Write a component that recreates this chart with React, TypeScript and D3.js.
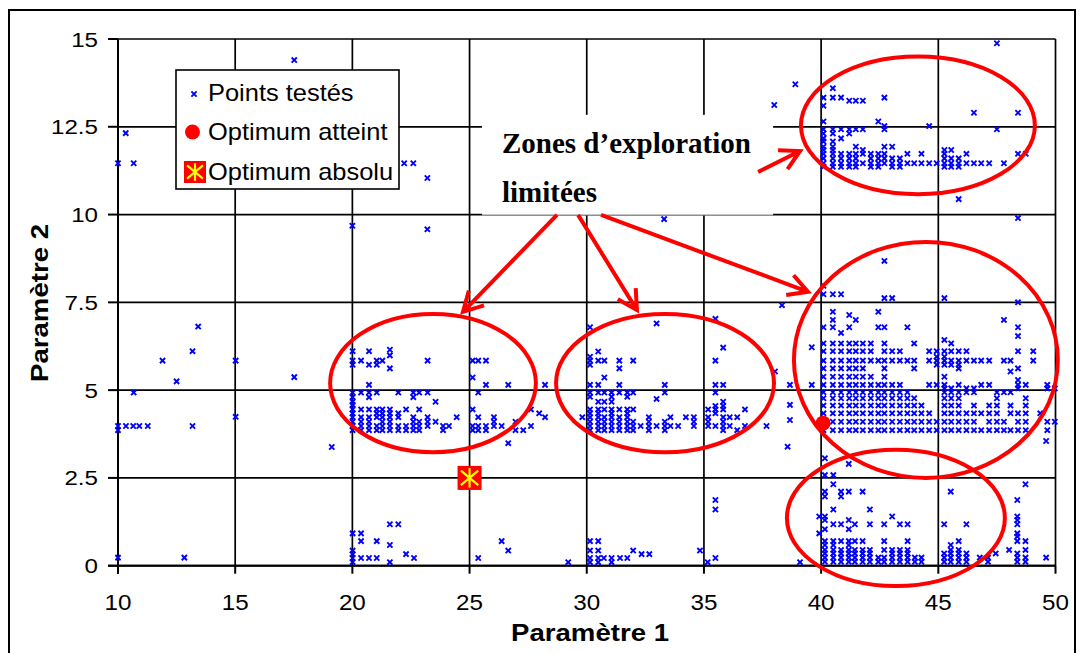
import React from 'react'
import * as d3 from 'd3'

type Row = { y: number; xs: number[] }

const xTicks = [10, 15, 20, 25, 30, 35, 40, 45, 50]
const yTicks = [0, 2.5, 5, 7.5, 10, 12.5, 15]
const yTickLabels = ['0', '2.5', '5', '7.5', '10', '12.5', '15']

// isolated points
const scattered: [number, number][] = [
  [10.33, 12.32], [10, 11.46], [10.67, 11.46], [17.52, 14.4], [22.21, 11.46], [22.6, 11.46],
  [20, 9.68], [23.2, 11.04], [23.2, 9.58], [13.42, 6.81], [13.18, 6.11], [11.9, 5.84],
  [12.5, 5.25], [10.67, 4.93], [15.02, 5.84], [17.52, 5.37], [15.02, 4.24], [13.18, 3.98],
  [10, 3.98], [10.34, 3.98], [10.65, 3.98], [10.91, 3.98], [11.27, 3.98], [10, 3.86],
  [19.12, 3.38], [10, 0.23], [12.83, 0.23], [33.3, 9.87], [38.0, 13.12], [38.9, 13.71],
  [47.5, 14.88], [38.57, 3.39], [38.67, 5.15], [39.6, 6.22], [39.6, 5.15], [38.67, 4.58],
  [38.67, 4.15], [38.33, 7.42], [40.1, 7.97], [42.7, 8.68], [49.6, 3.55],
]

const zoneLeft: Row[] = [
  { y: 6.11, xs: [20.01, 20.71] },
  { y: 6.15, xs: [21.6] },
  { y: 5.99, xs: [21.6] },
  { y: 5.84, xs: [20.01, 20.37, 21.04, 21.28, 23.21, 25.13, 25.37, 25.7] },
  { y: 5.72, xs: [20.01, 20.71, 21.04] },
  { y: 5.62, xs: [21.6] },
  { y: 5.36, xs: [25.13] },
  { y: 5.15, xs: [20.71, 25.7, 26.65, 28.22] },
  { y: 4.93, xs: [20.01, 20.37, 20.71, 21.04, 21.96, 22.6, 22.85, 23.21, 25.37] },
  { y: 4.8, xs: [20.01, 20.71, 22.6] },
  { y: 4.67, xs: [20.01, 23.55] },
  { y: 4.58, xs: [20.01] },
  { y: 4.45, xs: [20.01, 20.37, 20.71, 21.04, 21.28, 21.6, 22.29, 22.85, 25.13, 27.62] },
  { y: 4.34, xs: [20.01, 21.04, 21.28, 21.6, 21.96, 27.97] },
  { y: 4.23, xs: [20.01, 20.37, 20.71, 21.04, 21.28, 21.6, 21.96, 22.6, 23.21, 24.45, 25.37, 26.04, 28.22] },
  { y: 4.1, xs: [20.01, 20.37, 20.71, 21.28, 21.6, 22.6, 22.85, 23.21, 23.55, 26.04, 26.96] },
  { y: 3.98, xs: [20.01, 20.37, 20.71, 21.04, 21.28, 21.6, 21.96, 22.29, 22.6, 22.85, 23.21, 23.87, 24.12, 25.13, 25.37, 25.7, 26.04, 26.37, 27.62] },
  { y: 3.86, xs: [20.01, 20.37, 20.71, 21.04, 21.28, 21.6, 21.96, 22.29, 22.6, 22.85, 23.87, 25.13, 25.37, 25.7, 26.96, 27.29] },
  { y: 3.49, xs: [26.65] },
]

const zoneMiddle: Row[] = [
  { y: 7.03, xs: [35.49] },
  { y: 6.9, xs: [32.98] },
  { y: 6.79, xs: [30.14] },
  { y: 6.21, xs: [35.82] },
  { y: 6.1, xs: [30.49] },
  { y: 5.95, xs: [30.14] },
  { y: 5.84, xs: [30.14, 30.49, 30.75, 31.39, 31.98, 35.49] },
  { y: 5.72, xs: [30.14] },
  { y: 5.62, xs: [31.39] },
  { y: 5.53, xs: [38.03] },
  { y: 5.36, xs: [30.75] },
  { y: 5.15, xs: [30.14, 30.49, 31.39, 33.33, 35.49, 35.82] },
  { y: 4.93, xs: [30.14, 30.49, 30.75, 31.06, 31.39, 31.73, 31.98, 33.33, 35.49] },
  { y: 4.81, xs: [30.14, 31.06, 31.73] },
  { y: 4.75, xs: [32.98] },
  { y: 4.67, xs: [30.49, 30.75, 31.06, 35.82] },
  { y: 4.55, xs: [35.49, 35.82] },
  { y: 4.45, xs: [30.14, 30.49, 30.75, 31.06, 31.39, 31.73, 31.98, 35.18, 35.49, 35.82, 36.75] },
  { y: 4.34, xs: [30.14, 30.49, 31.06, 31.73, 35.49] },
  { y: 4.23, xs: [29.81, 30.14, 30.49, 30.75, 31.06, 31.39, 31.73, 32.65, 33.57, 34.23, 34.57, 35.18, 35.82, 36.1, 36.42] },
  { y: 4.1, xs: [30.14, 30.49, 30.75, 31.06, 31.39, 31.73, 31.98, 32.65, 33.33, 34.57, 35.18, 35.82] },
  { y: 3.98, xs: [30.14, 30.49, 30.75, 31.06, 31.39, 31.73, 31.98, 32.3, 32.65, 32.98, 33.33, 33.57, 33.9, 34.57, 35.18, 35.49, 35.82, 36.1, 36.75, 37.67] },
  { y: 3.86, xs: [30.14, 30.49, 30.75, 31.06, 31.39, 31.73, 31.98, 32.65, 33.33, 35.82, 36.42] },
]

const bottomStrip: Row[] = [
  { y: 1.87, xs: [35.49] },
  { y: 1.6, xs: [35.49] },
  { y: 1.18, xs: [21.6, 21.96] },
  { y: 0.92, xs: [20.01, 20.37] },
  { y: 0.7, xs: [20.37, 21.04, 26.37, 30.14, 30.49] },
  { y: 0.59, xs: [21.6] },
  { y: 0.43, xs: [20.01, 26.65, 30.14, 30.49, 31.98, 34.83] },
  { y: 0.33, xs: [20.01, 22.29, 32.34, 32.67] },
  { y: 0.22, xs: [20.01, 20.37, 20.71, 21.04, 22.63, 25.37, 30.14, 30.49, 30.73, 31.06, 31.42, 31.73, 35.49] },
  { y: 0.1, xs: [20.01, 21.6, 29.21, 30.14, 30.49, 31.06, 35.16, 39.1] },
]

const zoneBottomRight: Row[] = [
  { y: 3.06, xs: [40.16] },
  { y: 2.9, xs: [41.18] },
  { y: 2.58, xs: [40.16, 40.52] },
  { y: 2.32, xs: [40.52, 48.72] },
  { y: 2.11, xs: [40.16, 40.85, 41.18, 41.77, 45.53] },
  { y: 1.97, xs: [40.16, 40.85] },
  { y: 1.87, xs: [48.37] },
  { y: 1.6, xs: [40.52, 42.08] },
  { y: 1.4, xs: [39.92, 40.16, 43.03, 48.37] },
  { y: 1.3, xs: [40.16, 41.18, 48.37] },
  { y: 1.18, xs: [40.52, 40.85, 41.44, 42.08, 42.69, 43.36, 43.69, 45.25, 46.2, 48.37] },
  { y: 1.04, xs: [40.16, 41.18] },
  { y: 0.92, xs: [39.92, 48.37] },
  { y: 0.83, xs: [48.37] },
  { y: 0.7, xs: [40.16, 40.52, 40.85, 41.18, 41.44, 41.77, 42.69, 43.69, 45.87, 48.37, 48.72] },
  { y: 0.59, xs: [40.16, 40.52, 41.18, 45.53] },
  { y: 0.45, xs: [40.16, 40.52, 40.85, 41.18, 41.44, 41.77, 42.08, 42.69, 43.03, 43.36, 43.69, 45.53, 45.87, 48.02, 48.72] },
  { y: 0.35, xs: [40.16, 40.52, 40.85, 41.18, 41.44, 41.77, 42.08, 43.03, 43.36, 43.69, 45.25, 45.53, 45.87, 46.2, 47.45, 48.37] },
  { y: 0.23, xs: [40.16, 40.52, 40.85, 41.18, 41.44, 41.77, 42.08, 42.44, 42.69, 43.03, 43.36, 43.69, 44.0, 44.28, 45.25, 45.53, 45.87, 46.2, 46.77, 47.12, 48.37, 48.72, 49.6] },
  { y: 0.11, xs: [40.16, 40.52, 40.85, 41.18, 41.44, 41.77, 42.08, 42.44, 42.69, 43.03, 43.36, 43.69, 44.0, 44.28, 45.25, 45.53, 45.87, 46.2, 47.12, 48.37, 48.72] },
]

const zoneRight: Row[] = [
  { y: 7.73, xs: [40.1, 40.5, 40.85] },
  { y: 7.62, xs: [42.7, 43.03, 45.26] },
  { y: 7.5, xs: [48.4] },
  { y: 7.23, xs: [40.5, 42.44] },
  { y: 7.14, xs: [41.2] },
  { y: 7.0, xs: [40.5, 41.48, 47.8] },
  { y: 6.79, xs: [40.1, 40.5, 41.2, 42.44, 42.7, 43.68, 48.4] },
  { y: 6.63, xs: [40.85] },
  { y: 6.54, xs: [48.4] },
  { y: 6.43, xs: [45.26] },
  { y: 6.33, xs: [40.1, 40.5, 40.85, 41.2, 41.48, 41.78, 42.12, 42.7, 43.97, 45.55] },
  { y: 6.11, xs: [40.1, 40.5, 40.85, 41.2, 41.48, 41.78, 42.12, 42.7, 43.03, 43.36, 44.61, 44.93, 45.26, 45.55, 45.87, 46.2, 48.4, 49.05] },
  { y: 5.95, xs: [44.93, 45.26] },
  { y: 5.84, xs: [40.1, 40.5, 40.85, 41.2, 41.48, 41.78, 42.12, 42.44, 42.7, 43.03, 43.36, 43.68, 43.97, 44.61, 44.93, 45.26, 45.55, 45.87, 46.2, 46.52, 46.83, 47.17, 47.8, 48.08, 49.05] },
  { y: 5.72, xs: [44.93, 45.26, 45.55, 45.87] },
  { y: 5.62, xs: [40.1, 40.5, 40.85, 41.2, 41.48, 41.78, 42.7, 43.97, 45.87, 48.4] },
  { y: 5.53, xs: [48.08] },
  { y: 5.38, xs: [40.1, 40.5, 40.85, 41.2, 41.48, 41.78, 42.12, 42.7, 45.26] },
  { y: 5.29, xs: [48.4] },
  { y: 5.15, xs: [40.1, 40.5, 40.85, 41.2, 41.48, 41.78, 42.12, 42.44, 42.7, 43.03, 43.36, 44.61, 44.93, 45.26, 45.87, 46.83, 47.17, 48.4, 48.73, 49.65] },
  { y: 5.05, xs: [45.26, 45.55, 46.2, 46.52, 48.4, 49.65, 49.97] },
  { y: 4.94, xs: [40.1, 40.5, 40.85, 41.2, 41.48, 41.78, 42.12, 42.44, 42.7, 43.03, 43.36, 43.68, 45.26, 45.55, 45.87, 46.2, 46.52, 47.5, 47.8, 48.08] },
  { y: 4.77, xs: [40.1, 40.5, 40.85, 41.2, 41.48, 41.78, 42.12, 42.44, 42.7, 43.03, 43.36, 43.68, 43.97, 45.26, 45.55, 45.87, 47.5, 48.73] },
  { y: 4.56, xs: [40.1, 40.5, 40.85, 41.2, 41.48, 41.78, 42.12, 42.44, 42.7, 43.03, 43.36, 43.68, 43.97, 44.28, 45.26, 45.55, 45.87, 46.52, 47.17, 47.5, 48.08, 48.73] },
  { y: 4.34, xs: [40.1, 40.5, 40.85, 41.2, 41.48, 41.78, 42.12, 42.44, 42.7, 43.03, 43.36, 43.68, 43.97, 44.28, 44.61, 45.26, 45.55, 45.87, 46.2, 46.52, 46.83, 47.17, 47.5, 48.08, 48.4, 48.73, 49.35] },
  { y: 4.1, xs: [40.1, 40.5, 40.85, 41.2, 41.48, 41.78, 42.12, 42.44, 42.7, 43.03, 43.36, 43.68, 43.97, 44.28, 44.61, 44.93, 45.26, 45.55, 45.87, 46.2, 46.52, 47.17, 47.5, 47.8, 48.4, 48.73, 49.65, 49.97] },
  { y: 3.86, xs: [40.1, 40.5, 40.85, 41.2, 41.48, 41.78, 42.12, 42.44, 42.7, 43.03, 43.36, 43.68, 43.97, 44.28, 44.61, 44.93, 45.26, 45.55, 45.87, 46.2, 46.52, 46.83, 47.17, 47.5, 47.8, 48.08, 48.4, 48.73, 49.65] },
]

const zoneTop: Row[] = [
  { y: 13.6, xs: [40.5] },
  { y: 13.33, xs: [40.1, 40.5, 40.85, 42.7] },
  { y: 13.24, xs: [41.2, 41.48, 41.78] },
  { y: 13.1, xs: [40.1] },
  { y: 12.9, xs: [46.52, 48.4] },
  { y: 12.65, xs: [40.1, 42.44] },
  { y: 12.52, xs: [42.7, 44.61] },
  { y: 12.43, xs: [40.1, 40.5, 40.85, 41.2, 41.48, 41.78, 42.7, 47.5] },
  { y: 12.31, xs: [40.1, 40.5, 41.2] },
  { y: 12.17, xs: [40.1, 40.85] },
  { y: 12.08, xs: [40.1, 40.5] },
  { y: 11.93, xs: [40.1, 40.5, 41.48, 42.7, 43.03] },
  { y: 11.84, xs: [40.1, 40.5, 41.78, 45.26, 45.55] },
  { y: 11.73, xs: [40.1, 40.5, 40.85, 41.2, 41.48, 41.78, 42.12, 42.44, 42.7, 43.68, 44.28, 45.26, 46.2, 48.4, 48.73] },
  { y: 11.6, xs: [40.1, 40.5, 40.85, 41.2, 41.48, 42.12, 42.44, 42.7, 43.03, 43.36, 45.26, 45.55, 45.87] },
  { y: 11.46, xs: [40.1, 40.5, 40.85, 41.2, 41.48, 41.78, 42.12, 42.44, 42.7, 43.03, 43.36, 43.68, 43.97, 44.28, 44.61, 44.93, 45.26, 45.55, 45.87, 46.2, 46.52, 46.83, 47.17, 47.8] },
  { y: 11.36, xs: [40.1, 40.5, 40.85, 41.2, 41.48, 42.12, 42.44, 43.03, 43.36, 45.26, 45.55, 45.87] },
  { y: 10.44, xs: [45.87] },
  { y: 9.9, xs: [48.4] },
]

const optimumReached: [number, number] = [40.08, 4.06]
const optimumAbsolute: [number, number] = [25, 2.5]

// annotations, in data units: [cx, cy, rx, ry]
const zones: [number, number, number, number][] = [
  [23.44, 5.2, 4.39, 1.97],
  [33.34, 5.2, 4.65, 1.97],
  [44.47, 5.86, 5.63, 3.36],
  [44.13, 12.54, 4.99, 1.96],
  [43.19, 1.36, 4.65, 1.94],
]
// arrows: [x1, y1, x2, y2]
const arrows: [number, number, number, number][] = [
  [28.73, 9.99, 24.72, 7.23],
  [29.63, 9.99, 32.14, 7.28],
  [30.61, 9.99, 39.44, 7.8],
  [37.31, 11.21, 39.1, 11.81],
]

const toPoints = (rows: Row[]) => rows.flatMap(r => r.xs.map(v => [v, r.y] as [number, number]))

const allPoints: [number, number][] = [
  ...scattered,
  ...toPoints(zoneLeft),
  ...toPoints(zoneMiddle),
  ...toPoints(bottomStrip),
  ...toPoints(zoneBottomRight),
  ...toPoints(zoneRight),
  ...toPoints(zoneTop),
]

const SANS = 'Arial, "Liberation Sans", sans-serif'
const SERIF = '"Times New Roman", "Liberation Serif", serif'

const Txt: React.FC<{
  x: number
  y: number
  size: number
  sx?: number
  rotate?: number
  anchor?: 'start' | 'middle' | 'end'
  bold?: boolean
  family?: string
  children: React.ReactNode
}> = ({ x, y, size, sx = 1, rotate = 0, anchor = 'start', bold, family = SANS, children }) => (
  <text
    transform={`translate(${x},${y}) rotate(${rotate}) scale(${sx},1)`}
    fontSize={size}
    fontFamily={family}
    fontWeight={bold ? 'bold' : 'normal'}
    textAnchor={anchor}
    fill="#000"
  >
    {children}
  </text>
)

const Cross: React.FC<{ cx: number; cy: number }> = ({ cx, cy }) => (
  <path
    d={`M${cx - 2.6},${cy - 2.6}L${cx + 2.6},${cy + 2.6}M${cx - 2.6},${cy + 2.6}L${cx + 2.6},${cy - 2.6}`}
    stroke="#0000ff"
    strokeWidth={1.9}
  />
)

const Star: React.FC<{ cx: number; cy: number; s: number }> = ({ cx, cy, s }) => (
  <g>
    <rect x={cx - s / 2} y={cy - s / 2} width={s} height={s} fill="#ff0000" />
    <path
      d={`M${cx},${cy - s * 0.4}L${cx},${cy + s * 0.4}M${cx - s * 0.36},${cy - s * 0.3}L${cx + s * 0.36},${cy + s * 0.3}M${cx - s * 0.36},${cy + s * 0.3}L${cx + s * 0.36},${cy - s * 0.3}`}
      stroke="#ffff00"
      strokeWidth={2.2}
    />
  </g>
)

export default function App() {
  const width = 1080
  const height = 653
  const x = d3.scaleLinear().domain([10, 50]).range([118, 1055.5])
  const y = d3.scaleLinear().domain([0, 15]).range([565.7, 39])
  const kx = x(1) - x(0)
  const ky = y(0) - y(1)

  const arrowPath = (a: [number, number, number, number]) => {
    const x1 = x(a[0]), y1 = y(a[1]), x2 = x(a[2]), y2 = y(a[3])
    const ang = Math.atan2(y2 - y1, x2 - x1)
    const L = 22
    const w1 = [x2 - L * Math.cos(ang - 0.5), y2 - L * Math.sin(ang - 0.5)]
    const w2 = [x2 - L * Math.cos(ang + 0.5), y2 - L * Math.sin(ang + 0.5)]
    return `M${x1},${y1}L${x2},${y2}M${w1[0]},${w1[1]}L${x2},${y2}L${w2[0]},${w2[1]}`
  }

  const boxX0 = x(25.53), boxX1 = x(37.95), boxY0 = y(12.84), boxY1 = y(9.99)

  return (
    <svg
      width={width}
      height={height}
      style={{ position: 'absolute', left: 0, top: 0, background: '#fff' }}
    >
      <rect x={0} y={0} width={width} height={height} fill="#fff" />
      <rect x={9} y={10} width={1066} height={660} fill="none" stroke="#000" strokeWidth={2} />

      {/* grid */}
      <g stroke="#000" strokeWidth={1.7}>
        {xTicks.map(t => (
          <line key={'gx' + t} x1={x(t)} x2={x(t)} y1={y(15)} y2={y(0)} />
        ))}
        {yTicks.map(t => (
          <line key={'gy' + t} x1={x(10)} x2={x(50)} y1={y(t)} y2={y(t)} />
        ))}
      </g>
      {/* axes and ticks */}
      <g stroke="#000" strokeWidth={2}>
        <line x1={x(10)} x2={x(10)} y1={y(15)} y2={y(0) + 8} />
        <line x1={x(10) - 10} x2={x(50)} y1={y(0)} y2={y(0)} />
        {yTicks.map(t => (
          <line key={'ty' + t} x1={x(10) - 10} x2={x(10)} y1={y(t)} y2={y(t)} />
        ))}
        {xTicks.map(t => (
          <line key={'tx' + t} x1={x(t)} x2={x(t)} y1={y(0)} y2={y(0) + 8} />
        ))}
      </g>
      {yTicks.map((t, i) => (
        <Txt key={'ly' + t} x={98} y={y(t) + 7.5} size={21} sx={1.15} anchor="end">
          {yTickLabels[i]}
        </Txt>
      ))}
      {xTicks.map(t => (
        <Txt key={'lx' + t} x={x(t)} y={610} size={22} sx={1.1} anchor="middle">
          {t}
        </Txt>
      ))}
      <Txt x={590} y={641} size={24} sx={1.15} anchor="middle" bold>
        Paramètre 1
      </Txt>
      <Txt x={48} y={303} size={24} sx={1.15} rotate={-90} anchor="middle" bold>
        Paramètre 2
      </Txt>

      {/* tested points */}
      <g>
        {allPoints.map((p, i) => (
          <Cross key={i} cx={x(p[0])} cy={y(p[1])} />
        ))}
      </g>

      {/* exploration zones */}
      <g fill="none" stroke="#ff0000" strokeWidth={4}>
        {zones.map((z, i) => (
          <ellipse key={i} cx={x(z[0])} cy={y(z[1])} rx={z[2] * kx} ry={z[3] * ky} />
        ))}
      </g>

      {/* annotation box */}
      <rect x={boxX0} y={boxY0} width={boxX1 - boxX0} height={boxY1 - boxY0} fill="#fff" />
      <line x1={boxX0} x2={boxX1} y1={boxY1} y2={boxY1} stroke="#aaa" strokeWidth={1} />
      <Txt x={boxX0 + 20} y={boxY0 + 38} size={29} bold family={SERIF}>
        Zones d’exploration
      </Txt>
      <Txt x={boxX0 + 20} y={boxY0 + 87} size={29} bold family={SERIF}>
        limitées
      </Txt>

      <g fill="none" stroke="#ff0000" strokeWidth={4} strokeLinecap="butt">
        {arrows.map((a, i) => (
          <path key={i} d={arrowPath(a)} />
        ))}
      </g>

      {/* optimum markers */}
      <Star cx={x(optimumAbsolute[0])} cy={y(optimumAbsolute[1])} s={24} />
      <circle cx={x(optimumReached[0])} cy={y(optimumReached[1])} r={7.5} fill="#ff0000" />

      {/* legend */}
      <rect x={176} y={70} width={223} height={119} fill="#fff" stroke="#000" strokeWidth={1.6} />
      <Cross cx={194} cy={94} />
      <circle cx={192.5} cy={132} r={7.5} fill="#ff0000" />
      <Star cx={195} cy={172} s={22} />
      <Txt x={208} y={101} size={24} sx={1.06}>
        Points testés
      </Txt>
      <Txt x={208} y={140} size={24} sx={1.06}>
        Optimum atteint
      </Txt>
      <Txt x={208} y={180} size={24} sx={1.06}>
        Optimum absolu
      </Txt>
    </svg>
  )
}
